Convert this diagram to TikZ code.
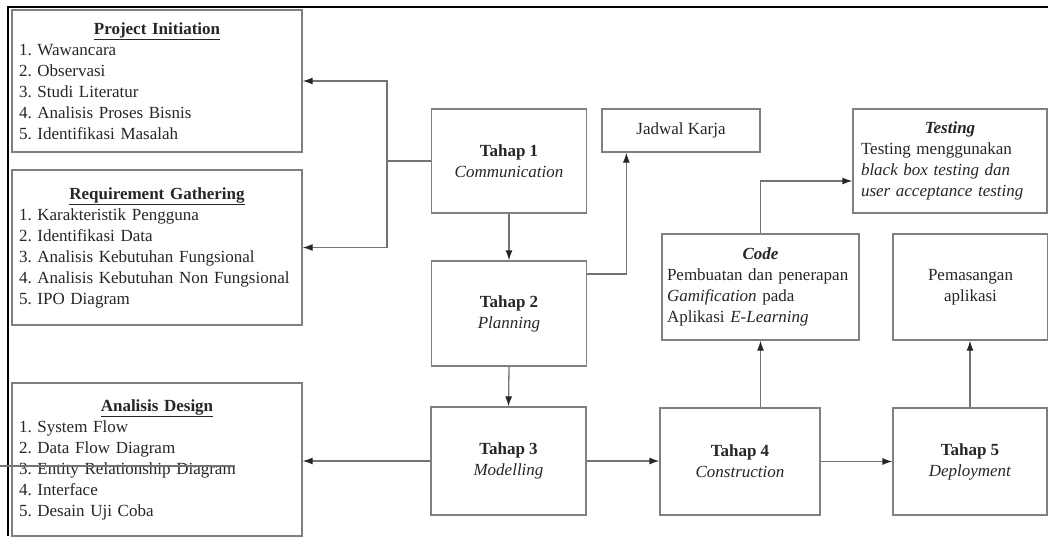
\documentclass[tikz,border=0pt]{standalone}
\usepackage{fontspec}
\setmainfont{Liberation Serif}
\usetikzlibrary{arrows.meta}
\frenchspacing
\begin{document}
\begin{tikzpicture}[x=1pt,y=-1pt,
  every node/.style={font=\fontsize{17}{21}\selectfont\frenchspacing, text=black!85},
  box/.style={draw=black!50, line width=1.3pt, rectangle, inner sep=0pt, align=center},
  listbox/.style={box, align=left, inner xsep=7pt, text width=276pt, minimum width=290pt},
  conn/.style={draw=black!55, line width=1.3pt},
  arr/.style={conn, -{Latex[length=10pt,width=7pt,color=black!85]}}]
\useasboundingbox (0,0) rectangle (1048,536);
\fill[white] (0,0) rectangle (1048,536);
% frame
\draw[black, line width=2pt] (8,536) -- (8,7) -- (1048,7);

% left list boxes
\node[listbox, minimum height=142pt] (pi) at (157,81) {%
\centerline{\underline{\textbf{Project Initiation}}}
1. Wawancara\\ 2. Observasi\\ 3. Studi Literatur\\ 4. Analisis Proses Bisnis\\ 5. Identifikasi Masalah};
\node[listbox, minimum height=155pt] (rg) at (157,247.5) {%
\centerline{\underline{\textbf{Requirement Gathering}}}
1. Karakteristik Pengguna\\ 2. Identifikasi Data\\ 3. Analisis Kebutuhan Fungsional\\ \mbox{4. Analisis Kebutuhan Non Fungsional}\\ 5. IPO Diagram};
\node[listbox, minimum height=153pt] (ad) at (157,459.5) {%
\centerline{\underline{\textbf{Analisis Design}}}
1. System Flow\\ 2. Data Flow Diagram\\ 3. Entity Relationship Diagram\\ 4. Interface\\ 5. Desain Uji Coba};
\draw[conn] (0,466) -- (235,466);

% stages
\node[box, minimum width=155pt, minimum height=104pt] (t1) at (509,161) {\textbf{Tahap 1}\\\textit{Communication}};
\node[box, minimum width=155pt, minimum height=105pt] (t2) at (509,313.5) {\textbf{Tahap 2}\\\textit{Planning}};
\node[box, minimum width=155pt, minimum height=108pt] (t3) at (508.5,461) {\textbf{Tahap 3}\\\textit{Modelling}};
\node[box, minimum width=160pt, minimum height=107pt] (t4) at (740,461.5) {\textbf{Tahap 4}\\\textit{Construction}};
\node[box, minimum width=154pt, minimum height=107pt] (t5) at (970,461.5) {\textbf{Tahap 5}\\\textit{Deployment}};

\node[box, minimum width=158pt, minimum height=43pt] (jk) at (681,130.5) {Jadwal Karja};
\node[box, align=left, inner xsep=8pt, text width=178pt, minimum height=104pt] (ts) at (950,161) {%
\centerline{\textbf{\textit{Testing}}}
Testing menggunakan\\ \textit{black box testing dan}\\ \mbox{\textit{user acceptance testing}}};
\node[box, align=left, inner xsep=5pt, text width=187pt, minimum height=106pt] (cd) at (760.5,287) {%
\centerline{\textbf{\textit{Code}}}
\mbox{Pembuatan dan penerapan}\\ \textit{Gamification} pada\\ Aplikasi \textit{E-Learning}};
\node[box, minimum width=155pt, minimum height=106pt] (pm) at (970.5,287) {Pemasangan\\aplikasi};

% connectors
\coordinate (j) at (387,161);
\draw[conn] (t1.west) -- (j);
\draw[arr] (j) |- (pi.east);
\draw[arr] (j) |- (rg.east);
\draw[arr] (t1.south) -- (t2.north);
\draw[arr] ([yshift=39.5pt]t2.east) -| ([xshift=25pt]jk.south west);
\draw[arr] (t2.south) -- (t3.north);
\draw[arr] (t3.west) -- (t3.west -| ad.east);
\draw[arr] (t3.east) -- (t3.east -| t4.west);
\draw[arr] (t4.east) -- (t4.east -| t5.west);
\draw[arr] (t4.north -| cd.south) -- (cd.south);
\draw[arr] (cd.north) |- ([yshift=-20pt]ts.west);
\draw[arr] (t5.north) -- (t5.north |- pm.south);
\end{tikzpicture}
\end{document}
